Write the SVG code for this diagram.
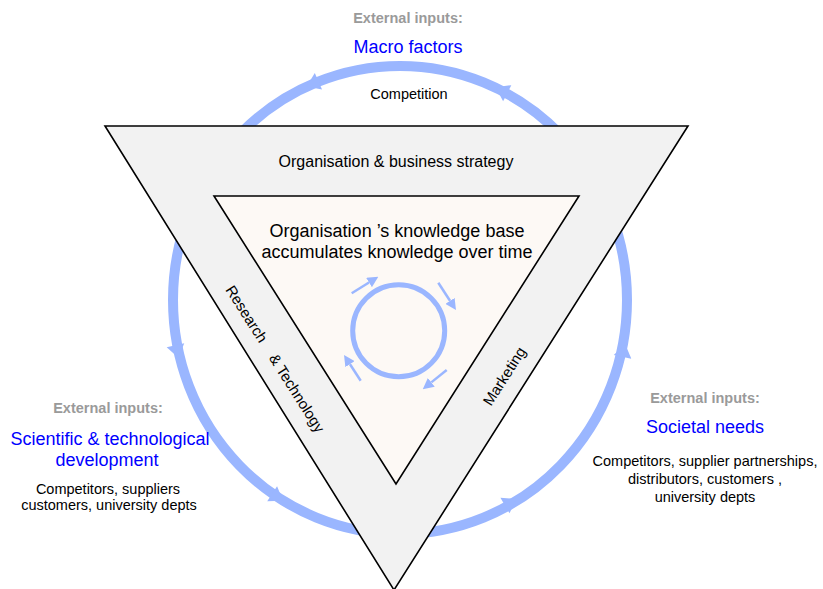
<svg xmlns="http://www.w3.org/2000/svg" xmlns:xlink="http://www.w3.org/1999/xlink" width="823" height="589" viewBox="0 0 823 589">
<style>
text{font-family:"Liberation Sans",Arial,sans-serif;fill:#000}
.ext{font-size:14.5px;font-weight:bold;fill:#9a9a9a;text-anchor:middle}
.blue{font-size:18px;fill:#0000ff;text-anchor:middle}
.sm{font-size:14.5px;text-anchor:middle}
.mid{font-size:16px;text-anchor:middle}
.big{font-size:18px;text-anchor:middle}
.band{font-size:15px;text-anchor:middle}
.cyc{fill:none;stroke:#9ab6ff}
</style>
<defs>
<polygon id="bh" points="6,0 -7,-9 -7,9" fill="#9ab6ff"/>
<marker id="sa" markerUnits="userSpaceOnUse" markerWidth="11" markerHeight="11" refX="0" refY="5.5" orient="auto">
<path d="M0,0 L11,5.5 L0,11 z" fill="#9ab6ff"/>
</marker>
</defs>
<rect width="823" height="589" fill="#fff"/>
<g id="connectors">
<ellipse class="cyc" cx="400" cy="300" rx="227" ry="234" stroke-width="10"/>
<use xlink:href="#bh" transform="translate(312,84) rotate(156.5)"/>
<use xlink:href="#bh" transform="translate(501,90) rotate(207)"/>
<use xlink:href="#bh" transform="translate(624,350) rotate(-78)"/>
<use xlink:href="#bh" transform="translate(511,502) rotate(-30.4)"/>
<use xlink:href="#bh" transform="translate(278,497.5) rotate(33.2)"/>
<use xlink:href="#bh" transform="translate(177,352) rotate(77.4)"/>
</g>
<g id="outer-triangle">
<polygon points="105,126 688,126 394,590" fill="#f2f2f2" stroke="#000" stroke-width="1.6"/>
<text class="mid" x="396" y="167">Organisation &amp; business strategy</text>
<text class="band" xml:space="preserve" transform="translate(275,359) rotate(57.6)" x="0" y="5">Research    &amp; Technology</text>
<text class="band" transform="translate(504.5,376.3) rotate(-57.6)" x="0" y="5">Marketing</text>
</g>
<g id="inner-triangle">
<polygon points="214,196 579,196 396,484" fill="#fdf9f5" stroke="#000" stroke-width="1.6"/>
<text class="big" x="397" y="237">Organisation ’s knowledge base</text>
<text class="big" x="397" y="258">accumulates knowledge over time</text>
</g>
<g id="knowledge-cycle">
<circle class="cyc" cx="398.7" cy="330.8" r="46" stroke-width="5"/>
<g class="cyc" stroke-width="2.5" marker-end="url(#sa)">
<line x1="351.7" y1="293.3" x2="369" y2="282.5"/>
<line x1="438.3" y1="282.7" x2="450" y2="300.8"/>
<line x1="446.7" y1="370" x2="431.3" y2="382.4"/>
<line x1="360.7" y1="380.7" x2="350" y2="364.2"/>
</g>
</g>
<g id="macro-factors">
<text class="ext" x="408" y="23">External inputs:</text>
<text class="blue" x="408" y="53">Macro factors</text>
<text class="sm" x="409" y="99">Competition</text>
</g>
<g id="scientific-development">
<text class="ext" x="108" y="413">External inputs:</text>
<text class="blue" x="110" y="445">Scientific &amp; technological</text>
<text class="blue" x="107" y="466">development</text>
<text class="sm" x="108" y="494">Competitors, suppliers</text>
<text class="sm" x="109" y="510">customers, university depts</text>
</g>
<g id="societal-needs">
<text class="ext" x="705" y="403">External inputs:</text>
<text class="blue" x="705" y="433">Societal needs</text>
<text class="sm" x="705" y="466">Competitors, supplier partnerships,</text>
<text class="sm" x="705" y="484">distributors, customers ,</text>
<text class="sm" x="705" y="502">university depts</text>
</g>
</svg>
